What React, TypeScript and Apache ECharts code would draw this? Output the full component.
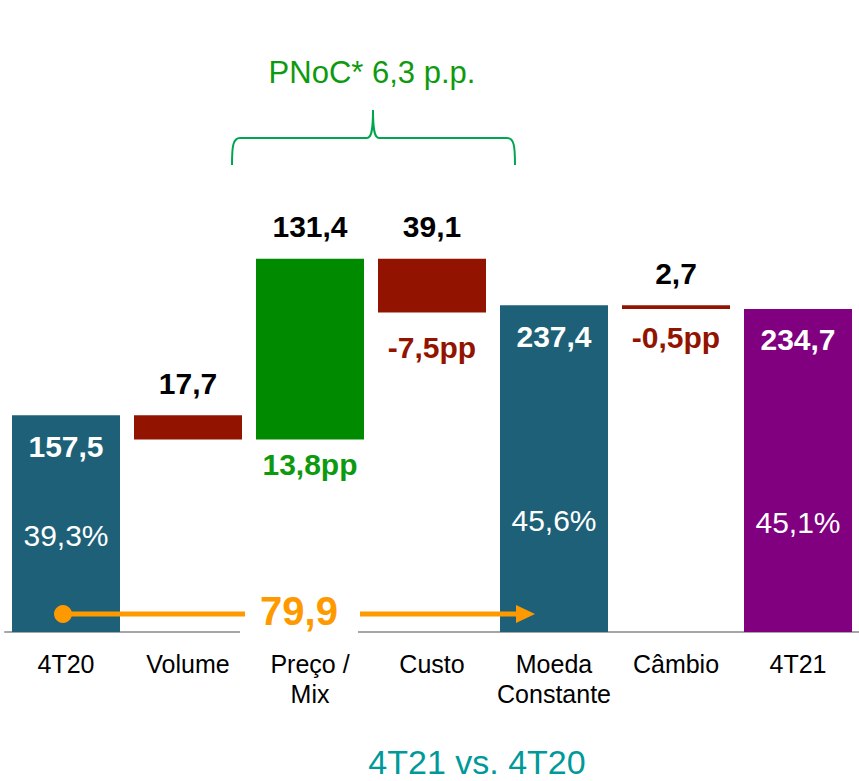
import React, { useEffect, useRef } from "react";
import * as echarts from "echarts";

const categories = ["4T20", "Volume", "Preço /\nMix", "Custo", "Moeda\nConstante", "Câmbio", "4T21"];
const values = [157.5, 17.7, 131.4, 39.1, 237.4, 2.7, 234.7];
const kinds = ["total", "decrease", "increase", "decrease", "total", "decrease", "total"];
const marginLabels = ["39,3%", "", "13,8pp", "-7,5pp", "45,6%", "-0,5pp", "45,1%"];
const arrowLabel = "79,9";
const braceLabel = "PNoC* 6,3 p.p.";
const footer = "4T21 vs. 4T20";

const FONT = "'Liberation Sans', Arial, sans-serif";
const TEAL = "#1D6078";
const RED = "#921400";
const GREEN = "#008A00";
const PURPLE = "#800080";
const ORANGE = "#FF9900";
const barColors = [TEAL, RED, GREEN, RED, TEAL, RED, PURPLE];
const marginColors = ["#fff", "", "#0E9A0E", RED, "#fff", RED, "#fff"];
const marginDist = [82, 0, 10, 20, 97, 14, 95];

const fmt = (v: number) => v.toFixed(1).replace(".", ",");

const bracePath =
  "M0,55 C0,36 1,28 8,28 L135,28 C139,28 141,22 141,0 C141,22 143,28 147,28 L275,28 C282,28 283,36 283,55";

export default function App() {
  const ref = useRef<HTMLDivElement>(null);
  useEffect(() => {
    document.body.style.margin = "0";
    try {
      echarts.graphic.registerShape("brace", echarts.graphic.extendPath(bracePath, {}) as any);
    } catch (e) {}
    const chart = echarts.init(ref.current!, null, { renderer: "svg" });

    const bases: number[] = [];
    let running = 0;
    values.forEach((v, i) => {
      if (kinds[i] === "total") {
        bases.push(0);
        running = v;
      } else if (kinds[i] === "increase") {
        bases.push(running);
        running += v;
      } else {
        running -= v;
        bases.push(running);
      }
    });

    const baseData = bases.map((b, i) => {
      const isTotal = kinds[i] === "total";
      const txt = marginLabels[i];
      return {
        value: b,
        label: txt
          ? {
              show: true,
              position: isTotal ? "top" : "insideTop",
              distance: marginDist[i],
              formatter: txt,
              color: marginColors[i],
              fontSize: 30,
              lineHeight: 30,
              fontWeight: isTotal ? "normal" : "bold",
              fontFamily: FONT,
              textBorderWidth: 0,
            }
          : { show: false },
      };
    });

    const visData = values.map((v, i) => {
      const isTotal = kinds[i] === "total";
      return {
        value: v,
        itemStyle: { color: barColors[i] },
        label: {
          show: true,
          position: isTotal ? "insideTop" : "top",
          distance: isTotal ? 16 : 17,
          formatter: fmt(v),
          color: isTotal ? "#fff" : "#000",
          fontSize: 30,
          lineHeight: 30,
          fontWeight: "bold",
          fontFamily: FONT,
          textBorderWidth: 0,
        },
      };
    });

    chart.setOption({
      animation: false,
      backgroundColor: "#fff",
      grid: { left: 5, right: 0, top: 219, bottom: 149 },
      xAxis: {
        type: "category",
        data: categories,
        axisLine: { lineStyle: { color: "#A6A6A6", width: 2 } },
        axisTick: { show: false },
        axisLabel: {
          interval: 0,
          fontSize: 25,
          lineHeight: 30,
          margin: 17,
          color: "#000",
          fontFamily: FONT,
        },
      },
      yAxis: { type: "value", min: 0, max: 300, show: false, splitLine: { show: false } },
      series: [
        {
          type: "bar",
          stack: "w",
          barWidth: 108,
          silent: true,
          itemStyle: { color: "rgba(0,0,0,0)" },
          data: baseData,
          z: 3,
        },
        {
          type: "bar",
          stack: "w",
          barWidth: 108,
          data: visData,
          z: 2,
        },
      ],
      graphic: [
        {
          type: "text",
          x: 372,
          y: 72,
          z: 100,
          style: {
            text: braceLabel,
            fontSize: 31,
            fontFamily: FONT,
            fill: "#0E9A0E",
            align: "center",
            verticalAlign: "middle",
          },
        },
        {
          type: "brace",
          x: 232,
          y: 110,
          z: 100,
          style: { fill: "none", stroke: "#00A550", lineWidth: 2 },
        },
        {
          type: "rect",
          z: 100,
          shape: { x: 240, y: 588, width: 118, height: 48 },
          style: { fill: "#fff" },
        },
        {
          type: "text",
          x: 299,
          y: 611,
          z: 101,
          style: {
            text: arrowLabel,
            fontSize: 40,
            fontWeight: "bold",
            fontFamily: FONT,
            fill: ORANGE,
            align: "center",
            verticalAlign: "middle",
          },
        },
        {
          type: "line",
          z: 101,
          shape: { x1: 63, y1: 614, x2: 245, y2: 614 },
          style: { stroke: ORANGE, lineWidth: 5 },
        },
        {
          type: "circle",
          z: 102,
          shape: { cx: 63, cy: 614, r: 9 },
          style: { fill: ORANGE },
        },
        {
          type: "line",
          z: 101,
          shape: { x1: 360, y1: 614, x2: 520, y2: 614 },
          style: { stroke: ORANGE, lineWidth: 5 },
        },
        {
          type: "polygon",
          z: 102,
          shape: { points: [[516, 605], [535, 614], [516, 623]] },
          style: { fill: ORANGE },
        },
        {
          type: "text",
          x: 477,
          y: 762,
          z: 100,
          style: {
            text: footer,
            fontSize: 34,
            fontFamily: FONT,
            fill: "#009999",
            align: "center",
            verticalAlign: "middle",
          },
        },
      ],
    });
    return () => chart.dispose();
  }, []);
  return <div ref={ref} style={{ width: 859, height: 781 }} />;
}
